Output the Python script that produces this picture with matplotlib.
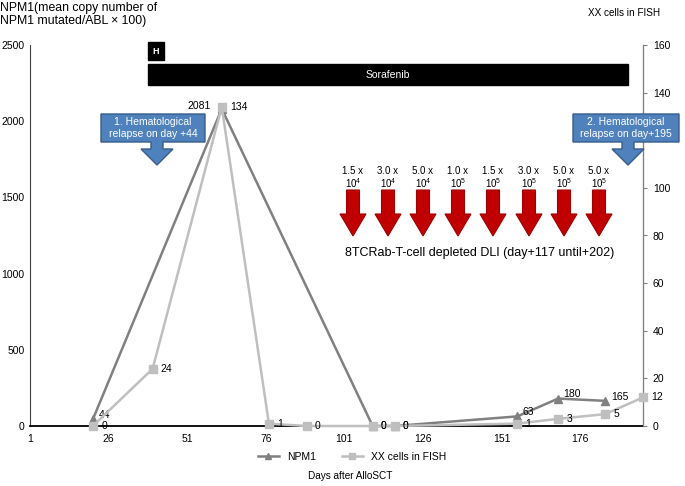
"""
NPM1 copy number and XX cells in FISH after AlloSCT
"""
import matplotlib
matplotlib.use("Agg")
import matplotlib.pyplot as plt
from matplotlib.patches import Polygon, Rectangle
from matplotlib.lines import Line2D

plt.rcParams['font.family'] = ['Liberation Sans', 'DejaVu Sans']

# data
npm1_days = [21, 62, 110, 117, 156, 169, 184]
npm1_vals = [44, 2081, 0, 0, 63, 180, 165]
fish_days = [21, 40, 62, 77, 89, 110, 117, 156, 169, 184, 196]
fish_vals = [0, 24, 134, 1, 0, 0, 0, 1, 3, 5, 12]
x_ticks = [1, 26, 51, 76, 101, 126, 151, 176]
left_ticks = [0, 500, 1000, 1500, 2000, 2500]
right_ticks = [0, 20, 40, 60, 80, 100, 120, 140, 160]
dli_doses = [("1.5", "4"), ("3.0", "4"), ("5.0", "4"), ("1.0", "5"),
             ("1.5", "5"), ("3.0", "5"), ("5.0", "5"), ("5.0", "5")]

NPM1_COL = '#808080'
FISH_COL = '#bfbfbf'

fig = plt.figure(figsize=(6.85, 4.86), dpi=100)
ax = fig.add_axes([30/685, 60/486, 613/685, 381/486])
ax2 = ax.twinx()

ax.plot(npm1_days, npm1_vals, color=NPM1_COL, lw=1.8, marker='^', ms=6,
        clip_on=False, zorder=3)
ax2.plot(fish_days, fish_vals, color=FISH_COL, lw=1.8, marker='s', ms=6,
         clip_on=False, zorder=3)

# data labels (npm1 zeros sit under the fish zeros)
for d, v in zip(npm1_days, npm1_vals):
    if v > 2000:
        off, ha = (-8, 2), 'right'
    elif v == 0:
        off, ha = (6, 0), 'left'
    else:
        off, ha = (4, 3), 'left'
    ax.annotate(str(v), (d, v), xytext=off, textcoords='offset points',
                ha=ha, va='center', fontsize=7.5)
for d, v in zip(fish_days, fish_vals):
    ax2.annotate(str(v), (d, v), xytext=(6, 0), textcoords='offset points',
                 ha='left', va='center', fontsize=7.5)

ax.set_xlim(1, 196)
ax.set_ylim(0, 2500)
ax2.set_ylim(0, 160)
ax.set_xticks(x_ticks)
ax.set_yticks(left_ticks)
ax2.set_yticks(right_ticks)
# the 120 label is hidden behind the second callout box
ax2.set_yticklabels(['' if t == 120 else str(t) for t in right_ticks])
ax.tick_params(axis='x', length=0, labelsize=7.5, pad=6)
ax.tick_params(axis='y', length=0, labelsize=7.5, pad=4)
ax2.tick_params(axis='y', length=3, labelsize=7.5, pad=4, color='#808080')

for a in (ax, ax2):
    a.spines['top'].set_visible(False)
ax.spines['bottom'].set_linewidth(1.3)
ax.spines['left'].set_color('#404040')
ax2.spines['left'].set_visible(False)
ax2.spines['bottom'].set_visible(False)
ax2.spines['right'].set_color('#808080')

# axis titles
fig.text(0, 1 - 2/486, "NPM1(mean copy number of\nNPM1 mutated/ABL \u00d7 100)",
         ha='left', va='top', fontsize=8.8, linespacing=1.15)
fig.text(624/685, 1 - 13/486, "XX cells in FISH", ha='center', va='center',
         fontsize=7.2)
fig.text(350/685, 1 - 476/486, "Days after AlloSCT", ha='center', va='center',
         fontsize=7.2)

handles = [Line2D([], [], color=NPM1_COL, lw=1.8, marker='^', ms=4),
           Line2D([], [], color=FISH_COL, lw=1.8, marker='s', ms=4)]
fig.legend(handles, ['NPM1', 'XX cells in FISH'], loc='center', ncol=2,
           bbox_to_anchor=(352/685, 1 - 457/486), frameon=False, fontsize=7.5,
           handlelength=2, columnspacing=2.5)

# overlay in pixel coordinates for annotation shapes
ov = fig.add_axes([0, 0, 1, 1], zorder=5)
ov.set_xlim(0, 685)
ov.set_ylim(486, 0)
ov.axis('off')

# treatment bars
ov.add_patch(Rectangle((148, 42), 16, 18, color='black'))
ov.text(156, 51, "H", color='white', ha='center', va='center', fontsize=6.5,
        fontweight='bold')
ov.add_patch(Rectangle((148, 64), 480, 21, color='black'))
ov.text(388, 75, "Sorafenib", color='white', ha='center', va='center', fontsize=7.5)


def callout(x0, x1, cx, text):
    pts = [(x0, 114), (x1, 114), (x1, 142), (cx + 6, 142), (cx + 6, 149),
           (cx + 16, 149), (cx, 165), (cx - 16, 149), (cx - 6, 149),
           (cx - 6, 142), (x0, 142)]
    ov.add_patch(Polygon(pts, closed=True, facecolor='#4f81bd',
                         edgecolor='#385d8a', lw=1))
    ov.text((x0 + x1) / 2, 128, text, color='white', ha='center', va='center',
            fontsize=7.5, linespacing=1.2)


callout(101, 205, 157, "1. Hematological\nrelapse on day +44")
callout(573, 679, 628, "2. Hematological\nrelapse on day+195")

# DLI arrows
arrow_x = [353, 388, 423, 458, 493, 529, 564, 599]
for cx, (mant, exp) in zip(arrow_x, dli_doses):
    pts = [(cx - 6.5, 190), (cx + 6.5, 190), (cx + 6.5, 214), (cx + 13, 214),
           (cx, 236), (cx - 13, 214), (cx - 6.5, 214)]
    ov.add_patch(Polygon(pts, closed=True, facecolor='#c00000',
                         edgecolor='#a00000', lw=0.8))
    ov.text(cx, 171, mant + " x", ha='center', va='center', fontsize=7)
    ov.text(cx, 183, r"$\mathregular{10^{%s}}$" % exp, ha='center',
            va='center', fontsize=7)
ov.text(480, 253, "8TCRab-T-cell depleted DLI (day+117 until+202)",
        ha='center', va='center', fontsize=9)

fig.savefig("out.png", dpi=100)
